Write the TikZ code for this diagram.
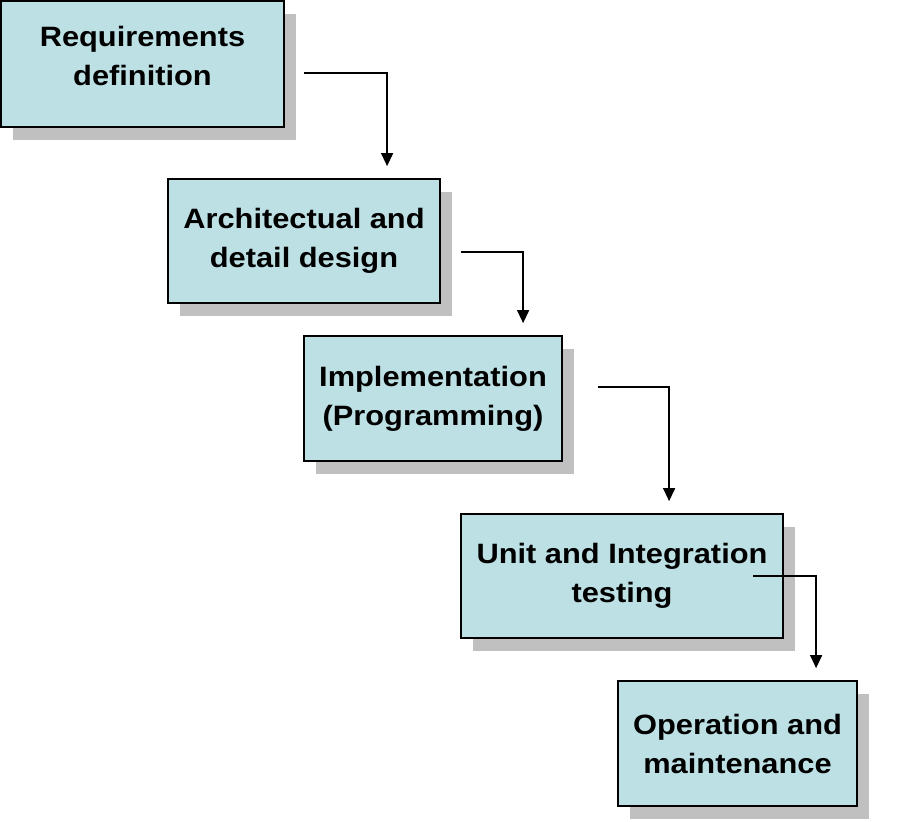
\documentclass[tikz,border=0pt]{standalone}
\usepackage{fontspec}
\setmainfont{Liberation Sans}[FakeStretch=1.1]
\usetikzlibrary{arrows.meta,shadows,calc}
\definecolor{boxfill}{RGB}{189,224,228}
\definecolor{shadowgray}{RGB}{192,192,192}
\begin{document}
\begin{tikzpicture}[x=1pt,y=-1pt,
  phase/.style={draw=black,line width=1.8pt,fill=boxfill,inner sep=0pt,align=center,
    font=\fontsize{28}{39}\selectfont\bfseries,
    drop shadow={shadow xshift=12pt,shadow yshift=-13pt,fill=shadowgray,opacity=1}},
  arr/.style={line width=1.4pt,-{Triangle[length=13pt,width=12pt]},shorten >=12pt}]
\useasboundingbox (0,0) rectangle (901,821);
\node[phase,minimum width=283pt,minimum height=126pt] (b1) at (142.5,64) {\raisebox{6pt}[\height][\depth]{\begin{tabular}{@{}c@{}}Requirements\\[-0.1pt]definition\end{tabular}}};
\node[phase,minimum width=272pt,minimum height=124pt] (b2) at (304,241) {Architectual and\\detail design};
\node[phase,minimum width=258pt,minimum height=125pt] (b3) at (433,398.5) {Implementation\\(Programming)};
\node[phase,minimum width=322pt,minimum height=124pt] (b4) at (622,576) {Unit and Integration\\testing};
\node[phase,minimum width=239pt,minimum height=125pt] (b5) at (737.5,743.5) {Operation and\\maintenance};
\coordinate (s1) at (304,73);
\coordinate (s2) at (461,252);
\coordinate (s3) at (598,387);
\coordinate (s4) at (753,576);
\draw[arr] (s1) -| ($(b2.north west)+(220,0)$);
\draw[arr] (s2) -| ($(b3.north west)+(220,0)$);
\draw[arr] (s3) -| ($(b4.north west)+(209,0)$);
\draw[arr] (s4) -| ($(b5.north west)+(199,0)$);
\end{tikzpicture}
\end{document}
